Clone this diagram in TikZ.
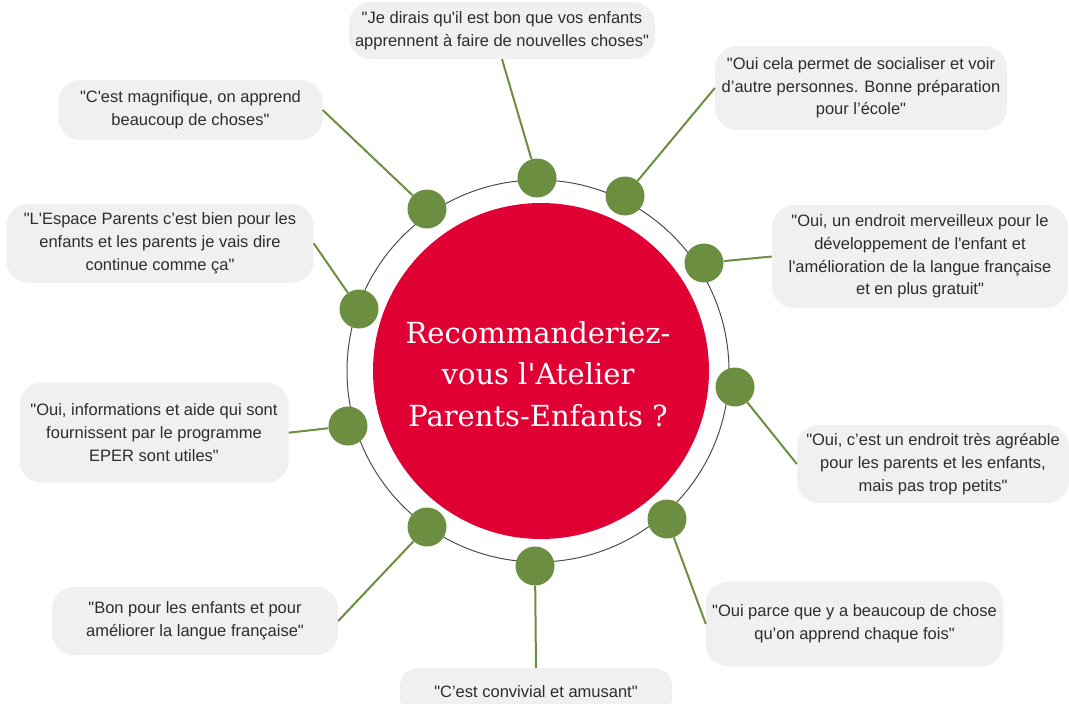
\documentclass[tikz,border=0pt]{standalone}
\usepackage{fontspec}
\setmainfont{Liberation Sans}
\newfontfamily\titlefont{DejaVu Serif}
\newcommand{\apo}{\textquotesingle}
\newcommand{\dq}{\textquotedbl}
\definecolor{leaf}{RGB}{108,142,64}
\definecolor{berry}{RGB}{224,0,52}
\definecolor{bubble}{RGB}{240,240,240}
\definecolor{ink}{RGB}{45,45,45}

\begin{document}
\begin{tikzpicture}[x=1pt,y=-1pt,
   dot/.style={circle,fill=leaf,inner sep=0pt,minimum size=39pt},
   quote/.style={fill=bubble,rounded corners=22pt,align=center,text=ink,inner sep=0pt,
     font=\fontsize{16.5}{22.7}\selectfont},
   twig/.style={draw=leaf,line width=2pt}]
   \useasboundingbox (0,0) rectangle (1069,704);
   \fill[berry] (541,371) circle[radius=168pt];
   \draw[black!70,line width=1pt] (538,371) circle[radius=191pt];
   \foreach \n/\x/\y in {1/537/178,2/625/196,3/704/263,4/735/387,5/667/519,
                         6/535/566,7/427/527,8/348/426,9/359/309,10/427/209}
     \node[dot] (d\n) at (\x,\y) {};
   \node[quote,minimum width=306pt,minimum height=57pt] (q1) at (502,30.5)
     {\dq{}Je dirais qu\apo{}il est bon que vos enfants\\apprennent à faire de nouvelles choses\dq};
   \node[quote,minimum width=292pt,minimum height=84pt] (q2) at (861,88)
     {\dq{}Oui cela permet de socialiser et voir\\d’autre personnes. Bonne préparation\\pour l’école\dq};
   \node[quote,minimum width=296pt,minimum height=103pt] (q3) at (920,256.5)
     {\dq{}Oui, un endroit merveilleux pour le\\développement de l\apo{}enfant et\\l\apo{}amélioration de la langue française\\et en plus gratuit\dq};
   \node[quote,minimum width=272pt,minimum height=78pt] (q4) at (933,464)
     {\dq{}Oui, c’est un endroit très agréable\\pour les parents et les enfants,\\mais pas trop petits\dq};
   \node[quote,minimum width=297pt,minimum height=85pt] (q5) at (854.5,624)
     {\dq{}Oui parce que y a beaucoup de chose\\qu’on apprend chaque fois\dq};
   \node[quote,rounded corners=18pt,minimum width=272pt,minimum height=48pt] (q6) at (536,692)
     {\dq{}C’est convivial et amusant\dq};
   \node[quote,minimum width=286pt,minimum height=68pt] (q7) at (195,621)
     {\dq{}Bon pour les enfants et pour\\améliorer la langue française\dq};
   \node[quote,minimum width=269pt,minimum height=100pt] (q8) at (154,432.7)
     {\dq{}Oui, informations et aide qui sont\\fournissent par le programme\\EPER sont utiles\dq};
   \node[quote,minimum width=307pt,minimum height=79pt] (q9) at (160,243.3)
     {\dq{}L\apo{}Espace Parents c’est bien pour les\\enfants et les parents je vais dire\\continue comme ça\dq};
   \node[quote,minimum width=264pt,minimum height=60pt] (q10) at (190.5,110)
     {\dq{}C\apo{}est magnifique, on apprend\\beaucoup de choses\dq};
   \foreach \n/\a in {1/south,2/west,3/west,4/west,5/west,6/north,7/east,8/east,9/east,10/east}
     \draw[twig] (q\n.\a) -- (d\n);
   \node[text=white,align=center,font=\titlefont\fontsize{29}{41.5}\selectfont] (ask) at (538,374)
     {Recommanderiez-\\vous l\apo{}Atelier\\Parents-Enfants ?};
\end{tikzpicture}
\end{document}
